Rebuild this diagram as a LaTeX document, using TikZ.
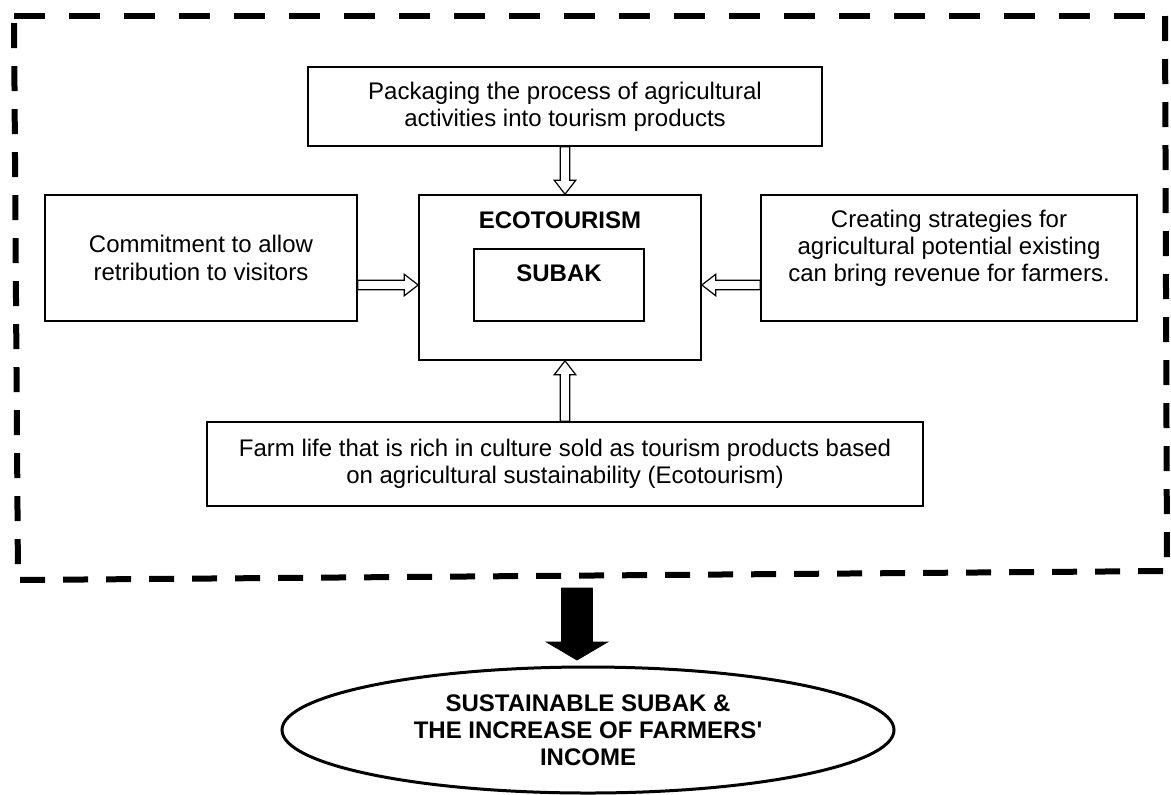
\documentclass[tikz,border=0pt]{standalone}
\usepackage{fontspec}
\setmainfont{Liberation Sans}
\usetikzlibrary{shapes.geometric,calc}

\tikzset{
  blockarrow/.style n args={3}{to path={
    let \p1=(\tikztostart), \p2=(\tikztotarget), \n1={atan2(\y2-\y1,\x2-\x1)} in
    ($(\p1)+(\n1+90:#1)$) -- ($(\p2)+(\n1+180:#3)+(\n1+90:#1)$)
    -- ($(\p2)+(\n1+180:#3)+(\n1+90:#2)$) -- (\p2)
    -- ($(\p2)+(\n1+180:#3)+(\n1-90:#2)$) -- ($(\p2)+(\n1+180:#3)+(\n1-90:#1)$)
    -- ($(\p1)+(\n1-90:#1)$) -- cycle
  }}
}

\begin{document}
\begin{tikzpicture}[x=0.5pt, y=-0.5pt, font=\fontsize{12pt}{13.6pt}\selectfont,
    box/.style={draw, line width=0.8pt, align=center, inner sep=0pt},
    hollow/.style={draw, fill=white, line width=0.6pt, blockarrow={2.4pt}{5.4pt}{7pt}},
    frame/.style={line width=3pt}]
      \useasboundingbox (0,0) rectangle (1171,794);

      \draw[frame, dash pattern=on 15.5pt off 12pt] (14,16) -- (1165,16);
      \draw[frame, dash pattern=on 12.5pt off 9pt] (1165,16) -- (1167,571) -- (18,580) -- (14,16);

      \node[box, minimum width=257pt, minimum height=39.5pt] (pack) at (565, 106.5) {Packaging the process of agricultural\\activities into tourism products};
      \node[box, minimum width=156pt, minimum height=63pt] (commit) at (201, 258) {Commitment to allow\\retribution to visitors};
      \node[box, minimum width=141pt, minimum height=82.5pt] (eco) at (560, 277.5) {};
      \node[box, minimum width=85pt, minimum height=36pt] (subak) at (559, 285) {};
      \node[font=\fontsize{12pt}{13.6pt}\selectfont\bfseries] (ecotxt) at (560, 220) {ECOTOURISM};
      \node[font=\fontsize{12pt}{13.6pt}\selectfont\bfseries] (subaktxt) at (559, 273) {SUBAK};
      \node[box, minimum width=188pt, minimum height=63pt, text depth=12pt] (strat) at (949, 258) {Creating strategies for\\agricultural potential existing\\can bring revenue for farmers.};
      \node[box, minimum width=358pt, minimum height=42pt] (farm) at (565, 464) {Farm life that is rich in culture sold as tourism products based\\on agricultural sustainability (Ecotourism)};
      \node[draw, ellipse, line width=1.5pt, minimum width=306pt, minimum height=63pt, inner sep=0pt, align=center, font=\fontsize{12pt}{13.6pt}\selectfont\bfseries] (goal) at (588, 730) {SUSTAINABLE SUBAK \&\\THE INCREASE OF FARMERS\textquotesingle\\INCOME};

      \draw[hollow] (pack.south) to (pack.south |- eco.north);
      \draw[hollow] (commit.east |- subak) to (eco.west |- subak);
      \draw[hollow] (strat.west |- subak) to (eco.east |- subak);
      \draw[hollow] (farm.north) to (farm.north |- eco.south);

      \coordinate (drop) at (577, 588);
      \coordinate (droptip) at (577, 660);
      \draw[fill=black, blockarrow={7.75pt}{15.25pt}{9pt}] (drop) to (droptip);
\end{tikzpicture}
\end{document}
